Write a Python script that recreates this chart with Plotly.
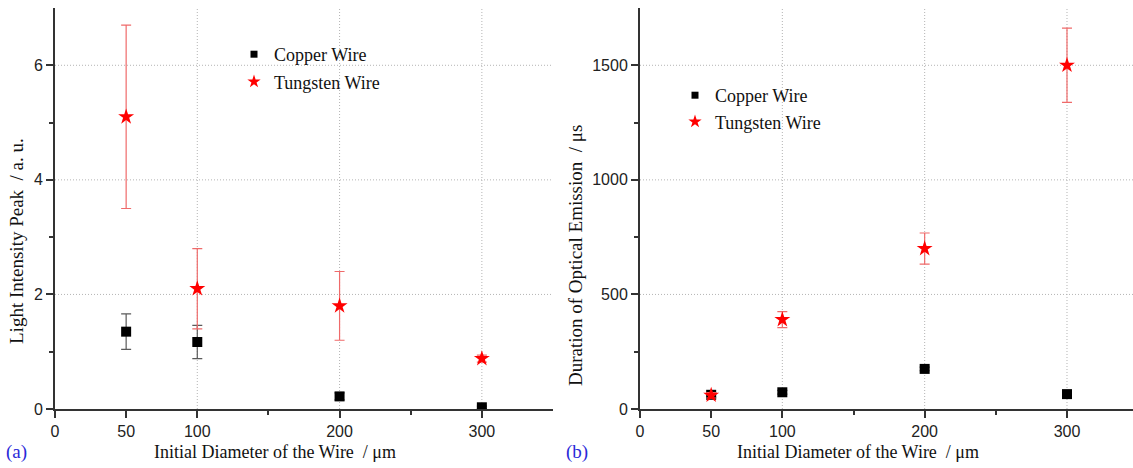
import plotly.graph_objects as go

W, H = 1133, 468

diameter = [50, 100, 200, 300]
copper_peak = [1.35, 1.17, 0.22, 0.03]
copper_peak_err = [0.31, 0.29, 0.06, 0.02]
tungsten_peak = [5.1, 2.1, 1.8, 0.88]
tungsten_peak_err = [1.6, 0.7, 0.6, 0.06]
copper_dur = [62, 73, 175, 65]
copper_dur_err = [10, 8, 8, 8]
tungsten_dur = [60, 390, 700, 1500]
tungsten_dur_err = [12, 35, 68, 162]

x_ticks = [0, 50, 100, 200, 300]
x_minor = [150, 250]
x_grid = [100, 200, 300]
x_top_major = [100, 200, 300]
x_top_minor = [50, 150, 250]
y1_ticks = [0, 2, 4, 6]
y1_minor = [1, 3, 5]
y1_grid = [2, 4, 6]
y2_ticks = [0, 500, 1000, 1500]
y2_minor = [250, 750, 1250]
y2_grid = [500, 1000, 1500]

SERIF = "Liberation Serif"
SANS = "Liberation Sans"
AX = "#333333"
GRID = "#b4b4b4"

fig = go.Figure()

def sq(x, y, e, xa, ya, leg, name):
    return go.Scatter(x=x, y=y, mode="markers", name=name, xaxis=xa, yaxis=ya,
                      legend=leg, showlegend=False,
                      marker=dict(symbol="square", size=10, color="black"),
                      error_y=dict(type="data", array=e, color="#5a5a5a", thickness=1.2, width=5))

def star(x, y, e, xa, ya, leg, name):
    return go.Scatter(x=x, y=y, mode="markers", name=name, xaxis=xa, yaxis=ya,
                      legend=leg, showlegend=False,
                      marker=dict(symbol="star", size=12, color="#ff0000"),
                      error_y=dict(type="data", array=e, color="#ef6a6a", thickness=1.2, width=5))

def leg_entry(name, symbol, size, color, xa, ya, leg):
    return go.Scatter(x=[None], y=[None], mode="markers", name=name, xaxis=xa, yaxis=ya,
                      legend=leg, legendgroup=name + leg, showlegend=True,
                      marker=dict(symbol=symbol, size=size, color=color))

fig.add_trace(sq(diameter, copper_peak, copper_peak_err, "x", "y", "legend", "Copper Wire"))
fig.add_trace(star(diameter, tungsten_peak, tungsten_peak_err, "x", "y", "legend", "Tungsten Wire"))
fig.add_trace(sq(diameter, copper_dur, copper_dur_err, "x2", "y2", "legend2", "Copper Wire"))
fig.add_trace(star(diameter, tungsten_dur, tungsten_dur_err, "x2", "y2", "legend2", "Tungsten Wire"))
for leg, xa, ya in (("legend", "x", "y"), ("legend2", "x2", "y2")):
    fig.add_trace(leg_entry("Copper Wire", "square", 7, "black", xa, ya, leg))
    fig.add_trace(leg_entry("Tungsten Wire", "star", 10, "#ff0000", xa, ya, leg))

d1 = [55 / W, 553 / W]
d2 = [640 / W, 1.0]
dy = [(H - 409) / H, (H - 8) / H]
xr1 = [0, 350]
xr2 = [0, (W - 640) / 1.4233]
yr1 = [0, 7]
yr2 = [0, 1750]

tickfont = dict(family=SANS, size=16, color="#222")

def main_x(domain, rng, anchor):
    return dict(domain=domain, range=rng, anchor=anchor, tickmode="array", tickvals=x_ticks,
                ticks="outside", ticklen=7, tickwidth=2, tickcolor=AX, showline=True,
                linecolor=AX, linewidth=2, showgrid=False, zeroline=False, tickfont=tickfont,
                automargin=False,
                minor=dict(tickmode="array", tickvals=x_minor, ticks="outside", ticklen=4,
                           tickwidth=2, tickcolor=AX, showgrid=False))

def top_x(rng, over, anchor):
    return dict(overlaying=over, side="top", anchor=anchor, range=rng, tickmode="array",
                tickvals=x_top_major, ticks="inside", ticklen=7, tickwidth=2, tickcolor=AX,
                showticklabels=False, showline=True, linecolor=AX, linewidth=2,
                showgrid=False, zeroline=False, automargin=False,
                minor=dict(tickmode="array", tickvals=x_top_minor, ticks="inside", ticklen=4,
                           tickwidth=2, tickcolor=AX, showgrid=False))

def main_y(rng, anchor, tv, mv):
    return dict(domain=dy, range=rng, anchor=anchor, tickmode="array", tickvals=tv,
                ticks="outside", ticklen=7, tickwidth=2, tickcolor=AX, showline=True,
                linecolor=AX, linewidth=2, showgrid=False, zeroline=False, tickfont=tickfont,
                automargin=False,
                minor=dict(tickmode="array", tickvals=mv, ticks="outside", ticklen=4,
                           tickwidth=2, tickcolor=AX, showgrid=False))

def right_y(rng, over, anchor, tv, mv):
    return dict(overlaying=over, side="right", anchor=anchor, range=rng, tickmode="array",
                tickvals=tv, ticks="inside", ticklen=7, tickwidth=2, tickcolor=AX,
                showticklabels=False, showline=True, linecolor=AX, linewidth=2,
                showgrid=False, zeroline=False, automargin=False,
                minor=dict(tickmode="array", tickvals=mv, ticks="inside", ticklen=4,
                           tickwidth=2, tickcolor=AX, showgrid=False))

legfont = dict(family=SERIF, size=18, color="#111")

fig.update_layout(
    template="none",
    width=W, height=H, margin=dict(l=0, r=0, t=0, b=0, pad=0, autoexpand=False),
    paper_bgcolor="white", plot_bgcolor="white",
    xaxis=main_x(d1, xr1, "y"),
    yaxis=main_y(yr1, "x", y1_ticks, y1_minor),
    xaxis2=main_x(d2, xr2, "y2"),
    yaxis2=main_y(yr2, "x2", y2_ticks, y2_minor),
    xaxis3=top_x(xr1, "x", "y"),
    yaxis3=right_y(yr1, "y", "x", y1_grid, y1_minor),
    xaxis4=top_x(xr2, "x2", "y2"),
    yaxis4=right_y(yr2, "y2", "x2", y2_grid, y2_minor),
    legend=dict(x=234 / W, y=(H - 36) / H, xanchor="left", yanchor="top",
                bgcolor="rgba(0,0,0,0)", font=legfont, tracegroupgap=1, traceorder="grouped"),
    legend2=dict(x=675 / W, y=(H - 77) / H, xanchor="left", yanchor="top",
                 bgcolor="rgba(0,0,0,0)", font=legfont, tracegroupgap=0, traceorder="grouped"),
    showlegend=True,
)

# dotted grid lines at the major ticks
for xa, ya, xs, ys in (("x", "y", x_grid, y1_grid), ("x2", "y2", x_grid, y2_grid)):
    for gx in xs:
        fig.add_shape(type="line", xref=xa, yref=ya + " domain", x0=gx, x1=gx, y0=0, y1=1,
                      line=dict(color=GRID, width=1, dash="1px,2px"), layer="below")
    for gy in ys:
        fig.add_shape(type="line", xref=xa + " domain", yref=ya, x0=0, x1=1, y0=gy, y1=gy,
                      line=dict(color=GRID, width=1, dash="1px,2px"), layer="below")

titlefont = dict(family=SERIF, size=18, color="#111")
ytitlefont = dict(family=SERIF, size=19, color="#111")
ann = [
    dict(text="Initial Diameter of the Wire  / \u03bcm", x=275 / W, y=(H - 452) / H, font=titlefont),
    dict(text="Initial Diameter of the Wire  / \u03bcm", x=858 / W, y=(H - 452) / H, font=titlefont),
    dict(text="Light Intensity Peak  / a. u.", x=17 / W, y=(H - 241) / H, textangle=-90,
         font=ytitlefont),
    dict(text="Duration of Optical Emission  / \u03bcs", x=575 / W, y=(H - 256) / H, textangle=-90,
         font=ytitlefont),
]
for a in ann:
    fig.add_annotation(xref="paper", yref="paper", showarrow=False, xanchor="center",
                       yanchor="middle", **a)

labfont = dict(family=SERIF, size=19, color="#2a2ad8")
fig.add_annotation(text="(a)", xref="paper", yref="paper", x=4 / W, y=(H - 452) / H,
                   xanchor="left", yanchor="middle", showarrow=False, font=labfont)
fig.add_annotation(text="(b)", xref="paper", yref="paper", x=564 / W, y=(H - 452) / H,
                   xanchor="left", yanchor="middle", showarrow=False, font=labfont)

fig.write_html("out.html")
